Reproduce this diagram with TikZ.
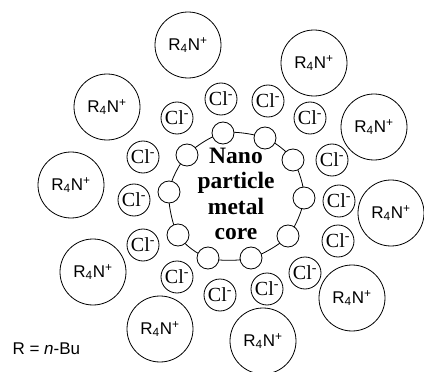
\documentclass[tikz,border=0pt]{standalone}
\usepackage{fontspec}
\setmainfont{Liberation Serif}
\newfontfamily\sansf{Liberation Sans}
\usetikzlibrary{backgrounds}
\begin{document}
\begin{tikzpicture}[x=1pt,y=-1pt,
 cation/.style={circle,draw,line width=0.8pt,minimum size=66pt,inner sep=0pt,font=\sansf\fontsize{17}{17}\selectfont},
 anion/.style={circle,draw,line width=0.8pt,minimum size=32pt,inner sep=0pt,font=\fontsize{20}{20}\selectfont},
 atom/.style={circle,draw,fill=white,line width=0.8pt,minimum size=22pt,inner sep=0pt},
 shell/.style={line width=0.8pt}]
\useasboundingbox (0,0) rectangle (424,372);
% cations
\foreach \n/\x/\y in {1/188/45,2/314/63,3/374/127,4/391/213,5/352/298,6/263/341,7/160/329,8/93/272,9/71/185,10/107/107}
  \node[cation] (c\n) at (\x,\y) {R\textsubscript{4}N\textsuperscript{+}};
% anions
\foreach \n/\x/\y in {1/177/118,2/221/99,3/268/101,4/310/118,5/332/160,6/339/201,7/338/241,8/305/273,9/267/289,10/220/295,11/177/277,12/143/245,13/134/200,14/143/157}
  \node[anion] (a\n) at (\x,\y) {Cl\textsuperscript{-}};
% metal atoms on the core surface
\foreach \n/\x/\y in {1/223/133,2/265/138,3/293/160,4/304/198,5/288/236,6/251/258,7/208/258,8/178/235,9/169/192,10/187/155}
  \node[atom] (m\n) at (\x,\y) {};
\begin{scope}[on background layer]
  \draw[shell] plot[smooth cycle] coordinates {(m1) (m2) (m3) (m4) (m5) (m6) (m7) (m8) (m9) (m10)};
\end{scope}
\node[align=center,font=\bfseries\fontsize{23.5}{25.5}\selectfont] (core) at (236,194) {Nano\\particle\\metal\\core};
\node[anchor=west,font=\sansf\fontsize{17}{17}\selectfont] (legend) at (9,349) {R = \textit{n}-Bu};
\end{tikzpicture}
\end{document}
